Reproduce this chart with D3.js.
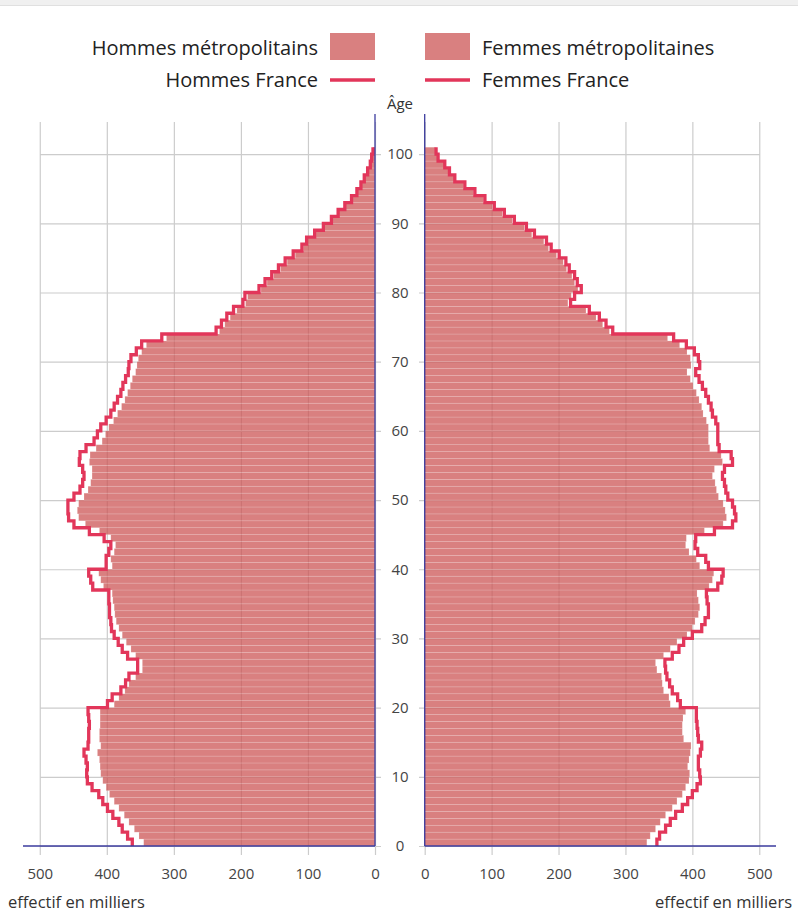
<!DOCTYPE html>
<html>
<head>
<meta charset="utf-8">
<script src="https://cdn.jsdelivr.net/npm/d3@7"></script>
<style>
  body { margin: 0; background: #fff; }
  svg { display: block; font-family: "Open Sans", sans-serif; }
</style>
</head>
<body>
<div id="chart"></div>
<script>
// ages 0 .. 100 (100 = 100 ans et plus)
const ages = d3.range(0, 101);

// effectifs en milliers
const hommesFrance = [
  362, 369, 377, 382, 391, 399, 406, 412, 422, 429,
  430, 429, 431, 434, 428, 427, 427, 426, 427, 428,
  399, 392, 379, 372, 367, 354, 354, 369, 377, 383,
  389, 393, 394, 396, 396, 397, 397, 421, 424, 427,
  401, 401, 397, 394, 404, 426, 449, 457, 458, 458,
  449, 440, 436, 434, 436, 441, 440, 431, 419, 414,
  409, 401, 394, 389, 384, 379, 376, 372, 368, 367,
  364, 356, 348, 318, 237, 229, 221, 211, 197, 194,
  173, 164, 154, 144, 134, 122, 109, 102, 90, 77,
  65, 55, 45, 35, 27, 21, 16, 11, 7, 5, 3
];
const hommesMetro = [
  345, 352, 359, 367, 374, 382, 389, 396, 401, 406,
  409, 410, 411, 414, 409, 411, 411, 410, 410, 410,
  389, 382, 373, 367, 357, 347, 347, 357, 364, 371,
  377, 382, 386, 388, 389, 391, 392, 405, 409, 412,
  392, 394, 389, 387, 394, 411, 432, 442, 444, 442,
  434, 428, 424, 422, 422, 426, 425, 416, 407, 402,
  397, 390, 384, 378, 373, 369, 365, 362, 357, 355,
  353, 348, 341, 311, 232, 224, 216, 206, 193, 190,
  170, 161, 151, 141, 131, 119, 107, 100, 88, 75,
  64, 54, 44, 34, 26, 20, 15, 10, 7, 4, 3
];
const femmesFrance = [
  347, 351, 360, 367, 375, 385, 393, 400, 407, 412,
  411, 409, 409, 412, 414, 409, 408, 407, 406, 406,
  382, 378, 370, 366, 362, 360, 359, 370, 380, 387,
  400, 414, 419, 424, 424, 422, 421, 438, 444, 446,
  424, 420, 408, 404, 405, 433, 460, 465, 463, 460,
  453, 450, 448, 445, 448, 460, 458, 440, 438, 438,
  438, 435, 430, 428, 424, 420, 415, 410, 405, 411,
  409, 403, 391, 372, 281, 271, 261, 246, 218, 224,
  234, 228, 224, 216, 211, 201, 189, 182, 164, 152,
  134, 119, 104, 90, 75, 60, 45, 37, 30, 20, 17
];
const femmesMetro = [
  332, 337, 345, 352, 360, 370, 377, 385, 390, 395,
  396, 393, 395, 397, 398, 387, 385, 385, 386, 390,
  367, 365, 357, 355, 354, 347, 345, 357, 367, 377,
  392, 400, 404, 409, 411, 409, 407, 425, 430, 432,
  411, 406, 395, 390, 391, 418, 446, 451, 449, 446,
  439, 436, 434, 430, 433, 445, 443, 426, 424, 424,
  424, 421, 416, 414, 410, 406, 401, 397, 392, 398,
  397, 392, 381, 363, 276, 266, 256, 241, 214, 219,
  229, 224, 220, 212, 207, 197, 185, 178, 160, 149,
  131, 116, 101, 88, 73, 58, 44, 36, 29, 19, 16
];

const xTicks = [0, 100, 200, 300, 400, 500];
const ageTicks = [0, 10, 20, 30, 40, 50, 60, 70, 80, 90, 100];
const legendLabels = ["Hommes métropolitains", "Femmes métropolitaines", "Hommes France", "Femmes France"];

const W = 798, H = 912;
const barColor = "rgb(204,85,85)";
const lineColor = "#e2365a";
const axisColor = "#3b3b9e";
const gridColor = "#cccccc";

const svg = d3.select("#chart").append("svg")
    .attr("width", W)
    .attr("height", H);

// bandeau gris du haut
svg.append("rect").attr("x", 0).attr("y", 0).attr("width", W).attr("height", 5).attr("fill", "#f0f0f0");
svg.append("line").attr("x1", 0).attr("x2", W).attr("y1", 5.5).attr("y2", 5.5).attr("stroke", "#e0e0e0");

// scales
const xL = d3.scaleLinear().domain([0, 525]).range([375, 23]);
const xR = d3.scaleLinear().domain([0, 525]).range([424.7, 776]);
const y = d3.scaleLinear().domain([0, 105.8]).range([846, 114]);

const gridTop = 122, gridBottom = 855;

// vertical grid + x tick labels
function xAxis(scale) {
    let g = svg.append("g")
        .attr("transform", "translate(0," + gridBottom + ")")
        .call(d3.axisBottom(scale)
            .tickValues(xTicks)
            .tickSizeInner(-(gridBottom - gridTop))
            .tickSizeOuter(0)
            .tickPadding(13));
    g.select(".domain").remove();
    g.selectAll("line").attr("stroke", gridColor).attr("stroke-width", 1.2);
    g.selectAll("text").attr("fill", "#444").style("font-size", "15px").style("font-family", "Open Sans");
}
xAxis(xL);
xAxis(xR);

// horizontal grid, left (with age labels in the middle)
let gl = svg.append("g")
    .attr("transform", "translate(381,0)")
    .call(d3.axisRight(y).tickValues(ageTicks).tickSizeInner(-(381 - 40)).tickSizeOuter(0));
gl.select(".domain").remove();
gl.selectAll("line").attr("stroke", gridColor).attr("stroke-width", 1.2);
gl.selectAll("text")
    .attr("x", 19)
    .attr("text-anchor", "middle")
    .attr("fill", "#444")
    .style("font-size", "15px")
    .style("font-family", "Open Sans");

let gr = svg.append("g")
    .attr("transform", "translate(419,0)")
    .call(d3.axisLeft(y).tickValues(ageTicks).tickSizeInner(-(760 - 419)).tickSizeOuter(0).tickFormat(""));
gr.select(".domain").remove();
gr.selectAll("line").attr("stroke", gridColor).attr("stroke-width", 1.2);

// bars
function drawBars(values, scale, left) {
    svg.append("g").selectAll("rect")
        .data(ages)
        .enter().append("rect")
        .attr("x", a => left ? scale(values[a]) : scale(0))
        .attr("width", a => Math.abs(scale(values[a]) - scale(0)))
        .attr("y", a => y(a + 1))
        .attr("height", a => y(a) - y(a + 1))
        .attr("fill", barColor)
        .attr("fill-opacity", 0.75)
        .attr("stroke", "#fff")
        .attr("stroke-opacity", 0.25)
        .attr("stroke-width", 0.6);
}
drawBars(hommesMetro, xL, true);
drawBars(femmesMetro, xR, false);

// France outlines (steps)
function drawLine(values, scale) {
    let pts = [];
    ages.forEach(a => {
        pts.push([a, values[a]]);
        pts.push([a + 1, values[a]]);
    });
    svg.append("path")
        .datum(pts)
        .attr("fill", "none")
        .attr("stroke", lineColor)
        .attr("stroke-width", 3.3)
        .attr("d", d3.line().x(d => scale(d[1])).y(d => y(d[0])));
}
drawLine(hommesFrance, xL);
drawLine(femmesFrance, xR);

// axes lines
svg.append("line").attr("x1", xL(0)).attr("x2", xL(0)).attr("y1", y(105.8)).attr("y2", y(0))
    .attr("stroke", axisColor).attr("stroke-width", 1.3);
svg.append("line").attr("x1", xR(0)).attr("x2", xR(0)).attr("y1", y(105.8)).attr("y2", y(0))
    .attr("stroke", axisColor).attr("stroke-width", 1.3);
svg.append("line").attr("x1", xL(525)).attr("x2", xL(0)).attr("y1", y(0)).attr("y2", y(0))
    .attr("stroke", axisColor).attr("stroke-width", 1.3);
svg.append("line").attr("x1", xR(0)).attr("x2", xR(525)).attr("y1", y(0)).attr("y2", y(0))
    .attr("stroke", axisColor).attr("stroke-width", 1.3);

// axis titles
svg.append("text").attr("x", 400).attr("y", 109).attr("text-anchor", "middle")
    .attr("fill", "#333").style("font-size", "15px").text("Âge");
svg.append("text").attr("x", 8).attr("y", 908)
    .attr("fill", "#333").style("font-size", "16.5px").text("effectif en milliers");
svg.append("text").attr("x", 792).attr("y", 908).attr("text-anchor", "end")
    .attr("fill", "#333").style("font-size", "16.5px").text("effectif en milliers");

// legend
const leg = svg.append("g").style("font-size", "20px").attr("fill", "#222");
leg.append("rect").attr("x", 330).attr("y", 33).attr("width", 45).attr("height", 27)
    .attr("fill", barColor).attr("fill-opacity", 0.75);
leg.append("rect").attr("x", 425).attr("y", 33).attr("width", 45).attr("height", 27)
    .attr("fill", barColor).attr("fill-opacity", 0.75);
leg.append("line").attr("x1", 330).attr("x2", 375).attr("y1", 80).attr("y2", 80)
    .attr("stroke", lineColor).attr("stroke-width", 3.5);
leg.append("line").attr("x1", 425).attr("x2", 470).attr("y1", 80).attr("y2", 80)
    .attr("stroke", lineColor).attr("stroke-width", 3.5);
leg.append("text").attr("x", 318).attr("y", 55).attr("text-anchor", "end").text(legendLabels[0]);
leg.append("text").attr("x", 482).attr("y", 55).text(legendLabels[1]);
leg.append("text").attr("x", 318).attr("y", 87).attr("text-anchor", "end").text(legendLabels[2]);
leg.append("text").attr("x", 482).attr("y", 87).text(legendLabels[3]);
</script>
</body>
</html>
